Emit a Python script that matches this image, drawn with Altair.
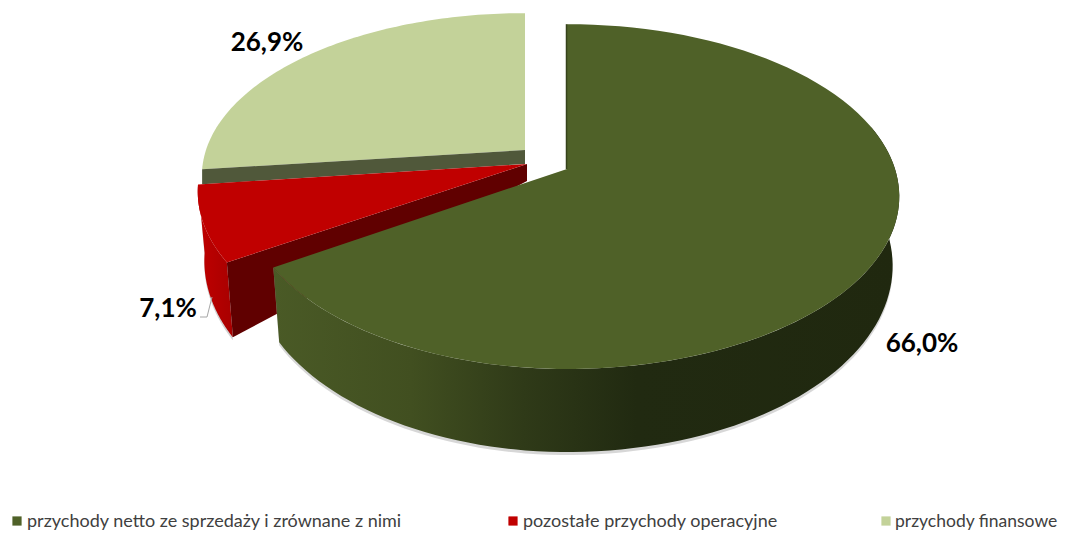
import numpy as np
import pandas as pd
import altair as alt

categories = ["przychody netto ze sprzedaży i zrównane z nimi", "pozostałe przychody operacyjne", "przychody finansowe"]
shares = [66.0, 7.1, 26.9]
share_labels = ["66,0%", "7,1%", "26,9%"]
colors = ["#4f6128", "#c00000", "#c3d299"]

# layout of the pie (screen pixels)
B, K = 168.0, 0.16
APEX = [(567, 169), (527, 164), (525, 150)]
A_LEFT = [318.0, 325.0, 319.0]
A_RIGHT = [328.0, 325.0, 325.0]
V_SCALE = [1.0, 1.0, 0.945]
DROP, SHRINK, V_GROW = 67.0, 0.98, 1.08
W, H = 1051, 525

def project(deg, i, bottom=False, extra=0.0):
    t = np.radians(np.asarray(deg, dtype=float))
    u, v = np.sin(t), -np.cos(t)
    w = 1 - K * v
    a = np.where(u < 0, A_LEFT[i], A_RIGHT[i])
    b = B * V_SCALE[i]
    if bottom:
        return APEX[i][0] + SHRINK * a * u / w, APEX[i][1] + DROP + extra + V_GROW * b * v / w
    return APEX[i][0] + a * u / w, APEX[i][1] + b * v / w

edges = np.cumsum([0.0] + shares) * 3.6

def arc(i, n=90):
    return np.linspace(edges[i], edges[i + 1], n)

def poly(xs, ys):
    return pd.DataFrame({"x": xs, "y": ys, "o": np.arange(len(xs))})

X = alt.X("x:Q", scale=alt.Scale(domain=[8, 8 + W]), axis=None)
Y = alt.Y("y:Q", scale=alt.Scale(domain=[8 + H, 8]), axis=None)

def shape(df, fill, opacity=1.0):
    return alt.Chart(df).mark_line(
        interpolate="linear-closed", fill=fill, stroke=None, fillOpacity=opacity, clip=False
    ).encode(x=X, y=Y, order="o:Q")

def top(i):
    x, y = project(arc(i), i)
    return poly(np.r_[APEX[i][0], x], np.r_[APEX[i][1], y])

def wall(i, d0=None, d1=None, extra=0.0):
    a = arc(i) if d0 is None else np.linspace(d0, d1, 90)
    x0, y0 = project(a, i)
    x1, y1 = project(a, i, True, extra)
    return poly(np.r_[x0, x1[::-1]], np.r_[y0, y1[::-1]])

main_grad = alt.LinearGradient(
    gradient="linear", x1=0, x2=1, y1=0, y2=0,
    stops=[alt.GradientStop(offset=0, color="#4a5a26"),
           alt.GradientStop(offset=0.22, color="#414f20"),
           alt.GradientStop(offset=0.4, color="#2f3a18"),
           alt.GradientStop(offset=0.58, color="#212a11"),
           alt.GradientStop(offset=1, color="#20280f")])
red_grad = alt.LinearGradient(
    gradient="linear", x1=0, x2=1, y1=0, y2=0,
    stops=[alt.GradientStop(offset=0, color="#c00000"),
           alt.GradientStop(offset=1, color="#a80000")])

# thin strip: light slice's cut face above the red slice
xa, ya = project([edges[2]], 2)
strip = poly([xa[0], APEX[2][0], APEX[2][0], xa[0]],
             [ya[0], APEX[2][1], APEX[2][1] + 14, ya[0] + 15])

x_r0, y_r0 = project([edges[1]], 1)
x_r1, y_r1 = project([edges[1]], 1, True)
red_inner = poly([APEX[1][0], x_r0[0], x_r1[0], APEX[1][0]],
                 [APEX[1][1], y_r0[0], y_r1[0], APEX[1][1] + 17])

x_m, y_m = project([0.0], 0)
main_edge = alt.Chart(poly([x_m[0] - 0.5, APEX[0][0] - 0.5], [y_m[0], APEX[0][1]])).mark_line(
    color="#36421b", strokeWidth=1.5).encode(x=X, y=Y, order="o:Q")

label_df = pd.DataFrame({
    "x": [922, 168, 267], "y": [344, 309, 43], "t": share_labels})
labels = alt.Chart(label_df).mark_text(
    font="Lato", fontWeight="bold", fontSize=26, color="#000000", align="center", baseline="middle"
).encode(x=X, y=Y, text="t:N")

leader = alt.Chart(poly([200, 207, 212], [317, 317, 297])).mark_line(
    color="#a6a6a6", strokeWidth=1).encode(x=X, y=Y, order="o:Q")

legend_df = pd.DataFrame({"x": [17, 513, 886], "tx": [27, 523, 895], "y": [521] * 3, "ty": [522] * 3,
                          "fs": [18, 18, 17.5], "t": categories, "c": colors})
legend_marks = alt.Chart(legend_df).mark_square(size=85, opacity=1).encode(
    x=X, y=Y, color=alt.Color("c:N", scale=None))
legend_text = alt.Chart(legend_df).mark_text(
    font="Lato", color="#404040", align="left", baseline="middle"
).encode(x=alt.X("tx:Q", scale=alt.Scale(domain=[8, 8 + W]), axis=None),
         y=alt.Y("ty:Q", scale=alt.Scale(domain=[8 + H, 8]), axis=None),
         size=alt.Size("fs:Q", scale=None), text="t:N")

chart = alt.layer(
    shape(top(2), colors[2]),
    shape(strip, "#50583a"),
    shape(wall(1, extra=3), "#bdbdbd", 0.7),
    shape(wall(1), red_grad),
    shape(red_inner, "#600000"),
    shape(top(1), colors[1]),
    shape(wall(0, 75, edges[1], extra=3), "#bdbdbd", 0.6),
    shape(wall(0, 75, edges[1]), main_grad),
    shape(top(0), colors[0]),
    main_edge, leader, labels, legend_marks, legend_text,
).properties(width=W, height=H, padding=0, autosize=alt.AutoSizeParams(type="none")
).configure_view(stroke=None)

chart.save("out.html", embed_options={"renderer": "svg", "actions": False})
